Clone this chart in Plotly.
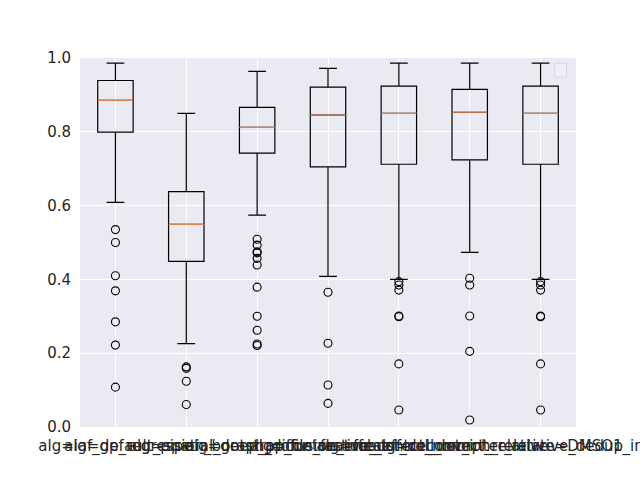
import plotly.graph_objects as go

labels = [
    "alg=iaf_default_pipe",
    "alg=gp_regression_bootstrap_cv",
    "alg=spatial_graph_diffusion_effect",
    "alg=deep_profile_feature_effect_norm",
    "alg=contrastive_control_detect_relative",
    "alg=robust_deconv_inter_relative_dedup",
    "alg=cell_morph_relative=DMSO1_integrated",
]
positions = [1, 2, 3, 4, 5, 6, 7]
q1 = [0.799, 0.449, 0.742, 0.705, 0.712, 0.724, 0.712]
median = [0.885, 0.549, 0.812, 0.845, 0.850, 0.853, 0.850]
q3 = [0.939, 0.638, 0.866, 0.921, 0.924, 0.915, 0.924]
lower = [0.609, 0.226, 0.574, 0.408, 0.400, 0.473, 0.400]
upper = [0.986, 0.850, 0.964, 0.972, 0.986, 0.986, 0.986]
outliers = [
    [0.535, 0.500, 0.410, 0.369, 0.285, 0.222, 0.108],
    [0.163, 0.159, 0.124, 0.061, -0.013],
    [0.509, 0.493, 0.475, 0.472, 0.457, 0.439, 0.379, 0.300, 0.262, 0.225, 0.221],
    [0.365, 0.227, 0.114, 0.064],
    [0.394, 0.385, 0.371, 0.301, 0.299, 0.171, 0.046],
    [0.403, 0.385, 0.301, 0.205, 0.019],
    [0.394, 0.385, 0.371, 0.301, 0.299, 0.171, 0.046],
]
yticks = [0.0, 0.2, 0.4, 0.6, 0.8, 1.0]
ytick_text = ["0.0", "0.2", "0.4", "0.6", "0.8", "1.0"]

BOX_W = 0.5
FONT = "DejaVu Sans"

fig = go.Figure()
fig.add_trace(go.Box(
    x=positions, q1=q1, median=median, q3=q3,
    lowerfence=lower, upperfence=upper,
    width=BOX_W, whiskerwidth=0.5,
    line=dict(color="black", width=1.2),
    fillcolor="rgba(0,0,0,0)",
    boxpoints=False, showlegend=False, hoverinfo="skip",
))

# median lines
mx, my = [], []
for p, m in zip(positions, median):
    mx += [p - BOX_W / 2, p + BOX_W / 2, None]
    my += [m, m, None]
fig.add_trace(go.Scatter(x=mx, y=my, mode="lines",
                         line=dict(color="#dd8452", width=1.2),
                         showlegend=False, hoverinfo="skip"))

# outliers
ox, oy = [], []
for p, vals in zip(positions, outliers):
    ox += [p] * len(vals)
    oy += vals
fig.add_trace(go.Scatter(x=ox, y=oy, mode="markers",
                         marker=dict(symbol="circle-open", size=8,
                                     color="black", line=dict(width=1.1)),
                         showlegend=False, hoverinfo="skip", cliponaxis=True))

fig.update_layout(
    width=640, height=480,
    margin=dict(l=80, r=64, t=58, b=53, autoexpand=False),
    paper_bgcolor="white", plot_bgcolor="#eaeaf2",
    font=dict(family=FONT, size=15, color="#262626"),
    showlegend=False,
    shapes=[dict(type="rect", xref="paper", yref="paper",
                 x0=0.957, x1=0.981, y0=0.948, y1=0.986,
                 fillcolor="#eeeef4", line=dict(color="#d4d4dc", width=1))],
)
fig.update_xaxes(
    range=[0.5, 7.5], tickmode="array", tickvals=positions, ticktext=labels,
    tickangle=0, ticklabeloverflow="allow", automargin=False,
    ticklabelstandoff=8,
    showgrid=True, gridcolor="white", gridwidth=1, zeroline=False,
    showline=False, ticks="", tickfont=dict(size=15, color="#262626"),
)
fig.update_yaxes(
    range=[0, 1], tickmode="array", tickvals=yticks, ticktext=ytick_text,
    automargin=False,
    showgrid=True, gridcolor="white", gridwidth=1, zeroline=False,
    showline=False, ticks="", ticklabelstandoff=8,
    tickfont=dict(size=15, color="#262626"),
)

fig.write_html("out.html")
